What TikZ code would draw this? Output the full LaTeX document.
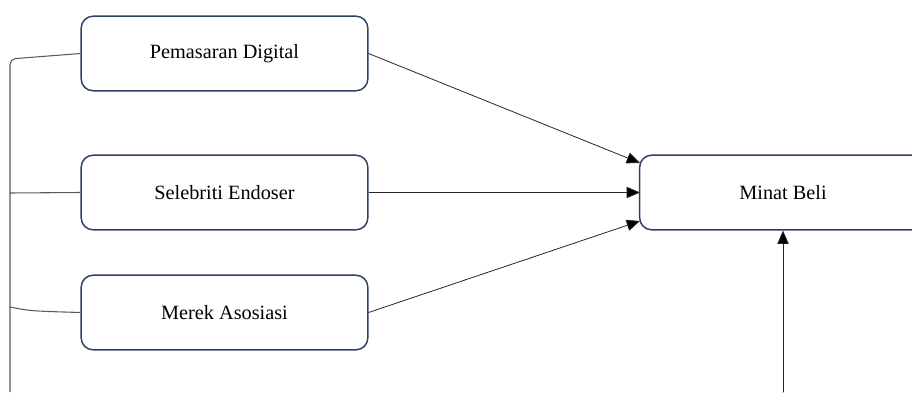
\documentclass[tikz,border=0pt]{standalone}
\usepackage{fontspec}
\setmainfont{Liberation Serif}
\usetikzlibrary{arrows.meta}
\definecolor{boxline}{HTML}{2E4163}
\definecolor{linkgray}{HTML}{5A5A5A}
\begin{document}
\begin{tikzpicture}[x=0.75pt, y=-0.75pt, thick,
                    main node/.style={rectangle, rounded corners=9pt, draw=boxline, line width=1.1pt,
                      minimum width=215pt, minimum height=56pt, font=\fontsize{15.2}{18}\selectfont},
                    link/.style={draw=linkgray, line width=0.8pt},
                    arrow/.style={draw=black!85, line width=0.6pt, -{Triangle[length=10pt, width=8.5pt]}}]

  \useasboundingbox (0,0) rectangle (912,392);

  \node[main node] (pd) at (224.5,53.5) {Pemasaran Digital};
  \node[main node] (se) at (224.5,192.5) {Selebriti Endoser};
  \node[main node] (ma) at (224.5,312.5) {Merek Asosiasi};
  \node[main node] (mb) at (783,192.5) {Minat Beli};

  \coordinate (lb) at (10,392);
  \coordinate (ls) at (10,193);
  \coordinate (lm) at (10,307);
  \coordinate (mbin) at (783,392);

  % left bracket
  \draw[link, rounded corners=4pt] (pd.west) -- (10,59) -- (lb);
  \draw[link] (ls) -- (se.west);
  \draw[link] (lm) .. controls (30,311) .. (ma.west);

  % arrows into Minat Beli
  \path[arrow]
    (pd.east) edge (640,163)
    (se.east) edge (640,192.5)
    (ma.east) edge (640,221)
    (mbin) edge (mb.south);

\end{tikzpicture}
\end{document}
